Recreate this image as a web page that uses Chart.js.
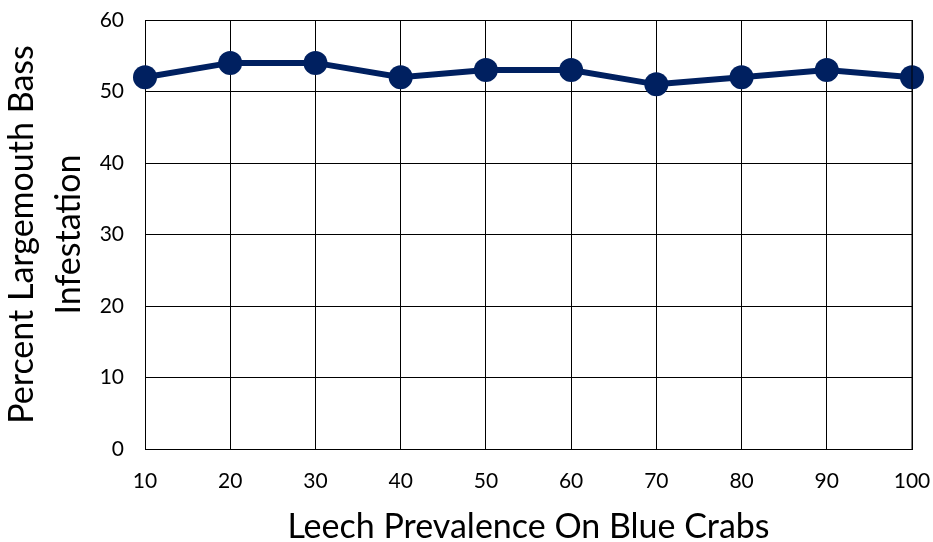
<!DOCTYPE html>
<html>
<head>
<meta charset="utf-8">
<script src="https://cdn.jsdelivr.net/npm/chart.js@4/dist/chart.umd.min.js"></script>
<style>
  body { margin: 0; background: #fff; }
  #wrap { width: 933px; height: 542px; }
</style>
</head>
<body>
<div id="wrap"><canvas id="leech-chart"></canvas></div>
<script>
var prevalence = ["10", "20", "30", "40", "50", "60", "70", "80", "90", "100"];
var infestation = [52, 54, 54, 52, 53, 53, 51, 52, 53, 52];

var fontName = "Lato, 'Open Sans', sans-serif";

new Chart(document.getElementById("leech-chart"), {
  type: 'line',
  data: {
    labels: prevalence,
    datasets: [
      {
        label: "Infestation",
        data: infestation,
        borderColor: "#002060",
        backgroundColor: "#002060",
        borderWidth: 6,
        pointRadius: 12,
        pointBackgroundColor: "#002060",
        pointBorderWidth: 0,
        tension: 0
      },
      {
        label: "centre",
        data: infestation,
        showLine: false,
        pointRadius: 1.2,
        pointBackgroundColor: "#ed7d31",
        pointBorderWidth: 0
      }
    ]
  },
  options: {
    responsive: true,
    maintainAspectRatio: false,
    animation: false,
    layout: { padding: 0 },
    plugins: {
      legend: { display: false },
      tooltip: { enabled: false }
    },
    scales: {
      x: {
        offset: false,
        grid: { color: "#000", lineWidth: 1, drawTicks: false },
        border: { color: "#000" },
        ticks: { color: "#000", font: { family: fontName, size: 21 }, padding: 20, maxRotation: 0 },
        title: {
          display: true,
          text: "Leech Prevalence On Blue Crabs",
          color: "#000",
          font: { family: fontName, size: 34, lineHeight: 1.1 },
          padding: { top: 10, bottom: -4 }
        },
        afterFit: function (s) {
          s.height = 93;
          s.paddingRight = 21;
        }
      },
      y: {
        min: 0,
        max: 60,
        ticks: { stepSize: 10, color: "#000", font: { family: fontName, size: 21 }, padding: 21 },
        grid: { color: "#000", lineWidth: 1, drawTicks: false },
        border: { color: "#000" },
        title: {
          display: true,
          text: ["Percent Largemouth Bass", "Infestation"],
          color: "#000",
          font: { family: fontName, size: 34, lineHeight: 1.4 },
          padding: { top: -2, bottom: 6 }
        },
        afterFit: function (s) {
          s.width = 145;
          s.paddingTop = 20;
        }
      }
    }
  },
  plugins: [{
    id: 'rightBorder',
    afterDraw: function (chart) {
      var a = chart.chartArea, c = chart.ctx;
      c.save();
      c.strokeStyle = "#000";
      c.lineWidth = 1;
      c.beginPath();
      c.moveTo(a.right, a.top);
      c.lineTo(a.right, a.bottom);
      c.stroke();
      c.restore();
    }
  }]
});
</script>
</body>
</html>
